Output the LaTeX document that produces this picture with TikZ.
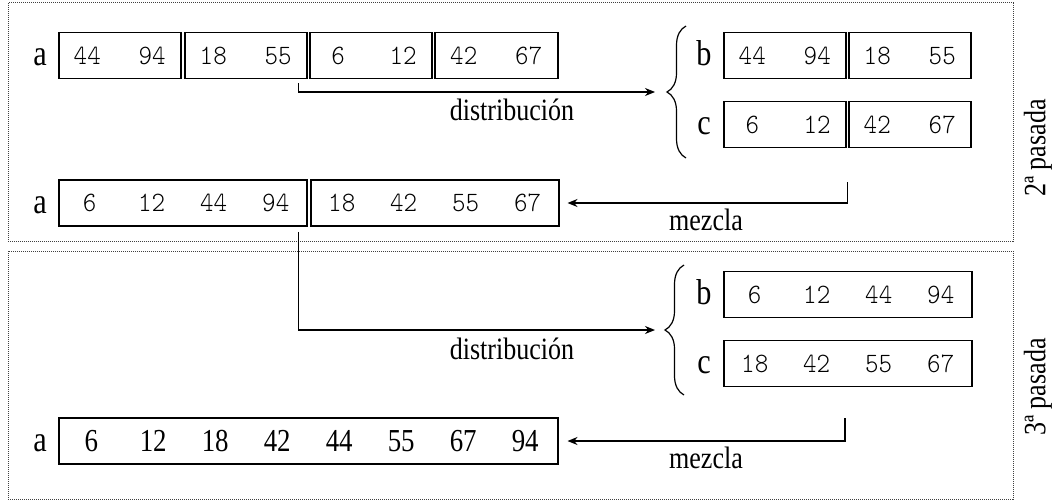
\documentclass[tikz,border=0pt]{standalone}
\usepackage{fontspec}
\setmainfont{Liberation Serif}[FakeStretch=0.84]
\newfontfamily\numfont{Latin Modern Mono Light}[FakeStretch=0.92]
\usetikzlibrary{arrows.meta,decorations.pathreplacing,calc}

% one column of a run: a number centred in a fixed-width slot
\newcommand\nm[2][61pt]{\makebox[#1]{#2}}
% a run of two numbers, 122pt wide in all
\newcommand\pairrun[2]{\nm[57pt]{#1}\hspace{8pt}\nm[57pt]{#2}}

\tikzset{
  run/.style={draw, line width=1.5pt, inner sep=0pt, minimum height=46pt,
              anchor=west, font=\fontsize{28}{30}\numfont},
  lbl/.style={anchor=base, inner sep=0pt, font=\fontsize{36}{40}\selectfont},
  txt/.style={anchor=base, inner sep=0pt, font=\fontsize{31}{36}\selectfont},
  passlabel/.style={inner sep=0pt, rotate=90, anchor=center, font=\fontsize{31}{36}\selectfont},
  conn/.style={line width=1.3pt, -{Stealth[length=10pt,width=8pt]}},
  passframe/.style={densely dotted, line width=1pt, black!75},
  bracestyle/.style={decorate, decoration={brace, amplitude=19pt}, line width=1.2pt},
}

\begin{document}
\begin{tikzpicture}[x=1pt, y=-1pt]
\useasboundingbox (0,0) rectangle (1056,503);

% pass frames
\draw[passframe] (8,3) rectangle (1013,241);
\draw[passframe] (8,251) rectangle (1013,499);
\node[passlabel] (p2) at (1038,148) {2ª pasada};
\node[passlabel] (p3) at (1038,387) {3ª pasada};

% ---- second pass ----
\node[lbl] (la1) at (40,65) {a};
\node[run, minimum width=122pt] (r1a) at (58,55.5)  {\pairrun{44}{94}};
\node[run, minimum width=122pt] (r1b) at (184,55.5) {\pairrun{18}{55}};
\node[run, minimum width=122pt] (r1c) at (309,55.5) {\pairrun{6}{12}};
\node[run, minimum width=123pt] (r1d) at (434,55.5) {\pairrun{42}{67}};

\draw[bracestyle] (686,158) -- (686,26);
\coordinate (t1) at (655,92);

\node[lbl] (lb1) at (704,65) {b};
\node[run, minimum width=121pt] (b1) at (723,55.5) {\pairrun{44}{94}};
\node[run, minimum width=122pt] (b2) at (848,55.5) {\pairrun{18}{55}};
\node[lbl] (lc1) at (704,134) {c};
\node[run, minimum width=121pt] (c1) at (723,124.5) {\pairrun{6}{12}};
\node[run, minimum width=122pt] (c2) at (848,124.5) {\pairrun{42}{67}};

\coordinate (d1s) at ($(r1b.south east)+(-9,4)$);
\draw[conn] (d1s) |- (t1);
\node[txt] (dist1) at (512,120) {distribución};

\node[lbl] (la2) at (40,213) {a};
\node[run, minimum width=248pt] (m1) at (58,203)  {\nm[62pt]{6}\nm[62pt]{12}\nm[62pt]{44}\nm[62pt]{94}};
\node[run, minimum width=248pt] (m2) at (310,203) {\nm[62pt]{18}\nm[62pt]{42}\nm[62pt]{55}\nm[62pt]{67}};

\coordinate (mz1) at ($(c1.south east)+(1,34)$);
\coordinate (mt1) at ($(m2.east)+(8,0)$);
\draw[conn] (mz1) |- (mt1);
\node[txt] (mez1) at (706,230) {mezcla};

% ---- third pass ----
\draw[bracestyle] (684,395) -- (684,265);
\coordinate (t2) at (655,330);

\node[lbl] (lb2) at (704,304) {b};
\node[run, minimum width=248pt] (lb) at (723,294.5) {\nm[62pt]{6}\nm[62pt]{12}\nm[62pt]{44}\nm[62pt]{94}};
\node[lbl] (lc2) at (704,373) {c};
\node[run, minimum width=248pt] (lc) at (723,363.5) {\nm[62pt]{18}\nm[62pt]{42}\nm[62pt]{55}\nm[62pt]{67}};

\coordinate (d2s) at ($(m1.south east)+(-9,5)$);
\draw[conn] (d2s) |- (t2);
\node[txt] (dist2) at (512,359) {distribución};

\node[lbl] (la3) at (40,451) {a};
\node[run, minimum width=499pt, font=\fontsize{32}{36}\selectfont] (fin) at (58,441)
  {\nm[62pt]{6}\nm[62pt]{12}\nm[62pt]{18}\nm[62pt]{42}\nm[62pt]{44}\nm[62pt]{55}\nm[62pt]{67}\nm[62pt]{94}};

\coordinate (mz2) at (845,418);
\coordinate (mt2) at ($(fin.east)+(9,0)$);
\draw[conn] (mz2) |- (mt2);
\node[txt] (mez2) at (706,468) {mezcla};
\end{tikzpicture}
\end{document}
